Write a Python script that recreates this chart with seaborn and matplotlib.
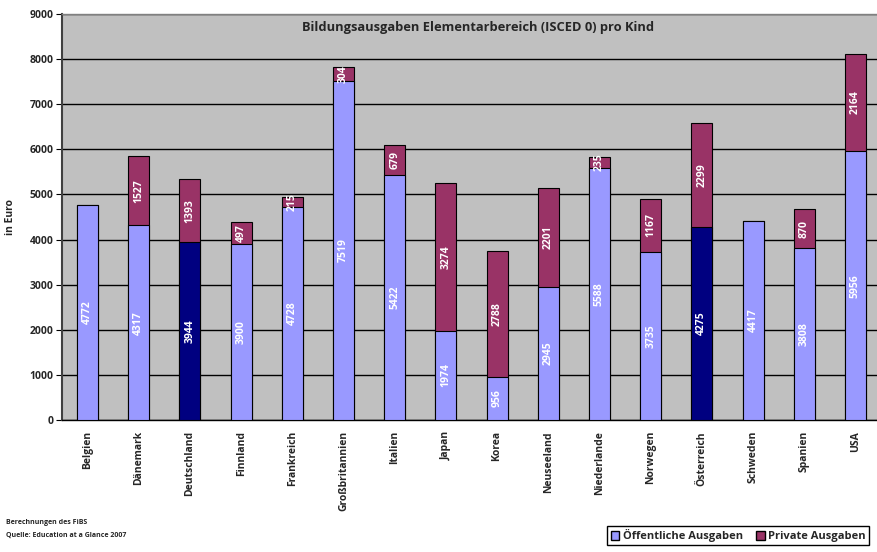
import matplotlib
matplotlib.use("Agg")
import matplotlib.pyplot as plt
import seaborn as sns
import pandas as pd
from matplotlib.patches import Patch

countries = ["Belgien", "Dänemark", "Deutschland", "Finnland", "Frankreich",
             "Großbritannien", "Italien", "Japan", "Korea", "Neuseeland",
             "Niederlande", "Norwegen", "Österreich", "Schweden", "Spanien", "USA"]
public = [4772, 4317, 3944, 3900, 4728, 7519, 5422, 1974, 956, 2945,
          5588, 3735, 4275, 4417, 3808, 5956]
private = [0, 1527, 1393, 497, 215, 304, 679, 3274, 2788, 2201,
           235, 1167, 2299, 0, 870, 2164]
highlight = ["Deutschland", "Österreich"]

light = "#9999FF"
dark = "#000080"
maroon = "#993366"

df = pd.DataFrame({"land": countries, "public": public, "private": private})
df["total"] = df["public"] + df["private"]

sns.set_style("white")
plt.rcParams["font.family"] = ["Open Sans", "DejaVu Sans"]
plt.rcParams["font.weight"] = "bold"

fig = plt.figure(figsize=(8.77, 5.52), dpi=100)
ax = fig.add_axes([62 / 877, 1 - 420 / 552, 819 / 877, 406 / 552])
ax.set_facecolor("#C0C0C0")

pal = {c: (dark if c in highlight else light) for c in countries}
sns.barplot(data=df, x="land", y="total", color=maroon, width=0.41,
            edgecolor="black", linewidth=0.8, saturation=1, ax=ax, zorder=3)
sns.barplot(data=df, x="land", y="public", hue="land", palette=pal, legend=False,
            width=0.41, edgecolor="black", linewidth=0.8, saturation=1, ax=ax, zorder=4)

for i, row in df.iterrows():
    ax.text(i, row["public"] / 2, str(row["public"]), rotation=90, color="white",
            ha="center", va="center", fontsize=7.5, fontweight="bold", zorder=5)
    if row["private"] > 0:
        ax.text(i, row["public"] + row["private"] / 2, str(row["private"]), rotation=90,
                color="white", ha="center", va="center", fontsize=7.5,
                fontweight="bold", zorder=5)

ax.set_ylim(0, 9000)
ax.set_xlim(-0.5, 15.5)
ax.set_yticks(range(0, 9001, 1000))
ax.set_yticklabels([str(v) for v in range(0, 9001, 1000)], fontsize=7.5, fontweight="bold")
ax.yaxis.grid(True, color="black", linewidth=1)
ax.set_axisbelow(True)
ax.set_xticks(range(16))
ax.set_xticklabels(countries, rotation=90, fontsize=7.5, fontweight="bold")
ax.set_xticks([i + 0.5 for i in range(-1, 16)], minor=True)
ax.tick_params(axis="x", which="major", length=0, pad=8)
ax.tick_params(axis="x", which="minor", length=4, width=0.8, color="black", direction="out")
ax.tick_params(axis="y", length=4, width=0.8, color="black", direction="out", pad=2, left=True)
ax.set_xlabel("")
ax.set_ylabel("in Euro", fontsize=7.5, fontweight="bold", labelpad=10)

for s in ["top", "right"]:
    ax.spines[s].set_color("#808080")
    ax.spines[s].set_linewidth(1)
ax.spines["left"].set_color("#404040")
ax.spines["left"].set_linewidth(1.5)
ax.spines["bottom"].set_color("black")
ax.spines["bottom"].set_linewidth(1)

fig.text(478 / 877, 1 - 28 / 552, "Bildungsausgaben Elementarbereich (ISCED 0) pro Kind",
         ha="center", va="center", fontsize=9.3, fontweight="bold")

fig.text(6 / 877, 1 - 522 / 552, "Berechnungen des FiBS", fontsize=5,
         fontweight="bold", va="center")
fig.text(6 / 877, 1 - 535 / 552, "Quelle: Education at a Glance 2007", fontsize=5,
         fontweight="bold", va="center")

handles = [Patch(facecolor=light, edgecolor="black", label="Öffentliche Ausgaben"),
           Patch(facecolor=maroon, edgecolor="black", label="Private Ausgaben")]
fig.legend(handles=handles, loc="lower right", bbox_to_anchor=(875 / 877, 1 / 552),
           ncol=2, fontsize=8, frameon=True, fancybox=False, edgecolor="black",
           handlelength=0.8, handleheight=0.8, handletextpad=0.3, columnspacing=1.2,
           borderpad=0.3, framealpha=1)

fig.savefig("out.png", dpi=100)
